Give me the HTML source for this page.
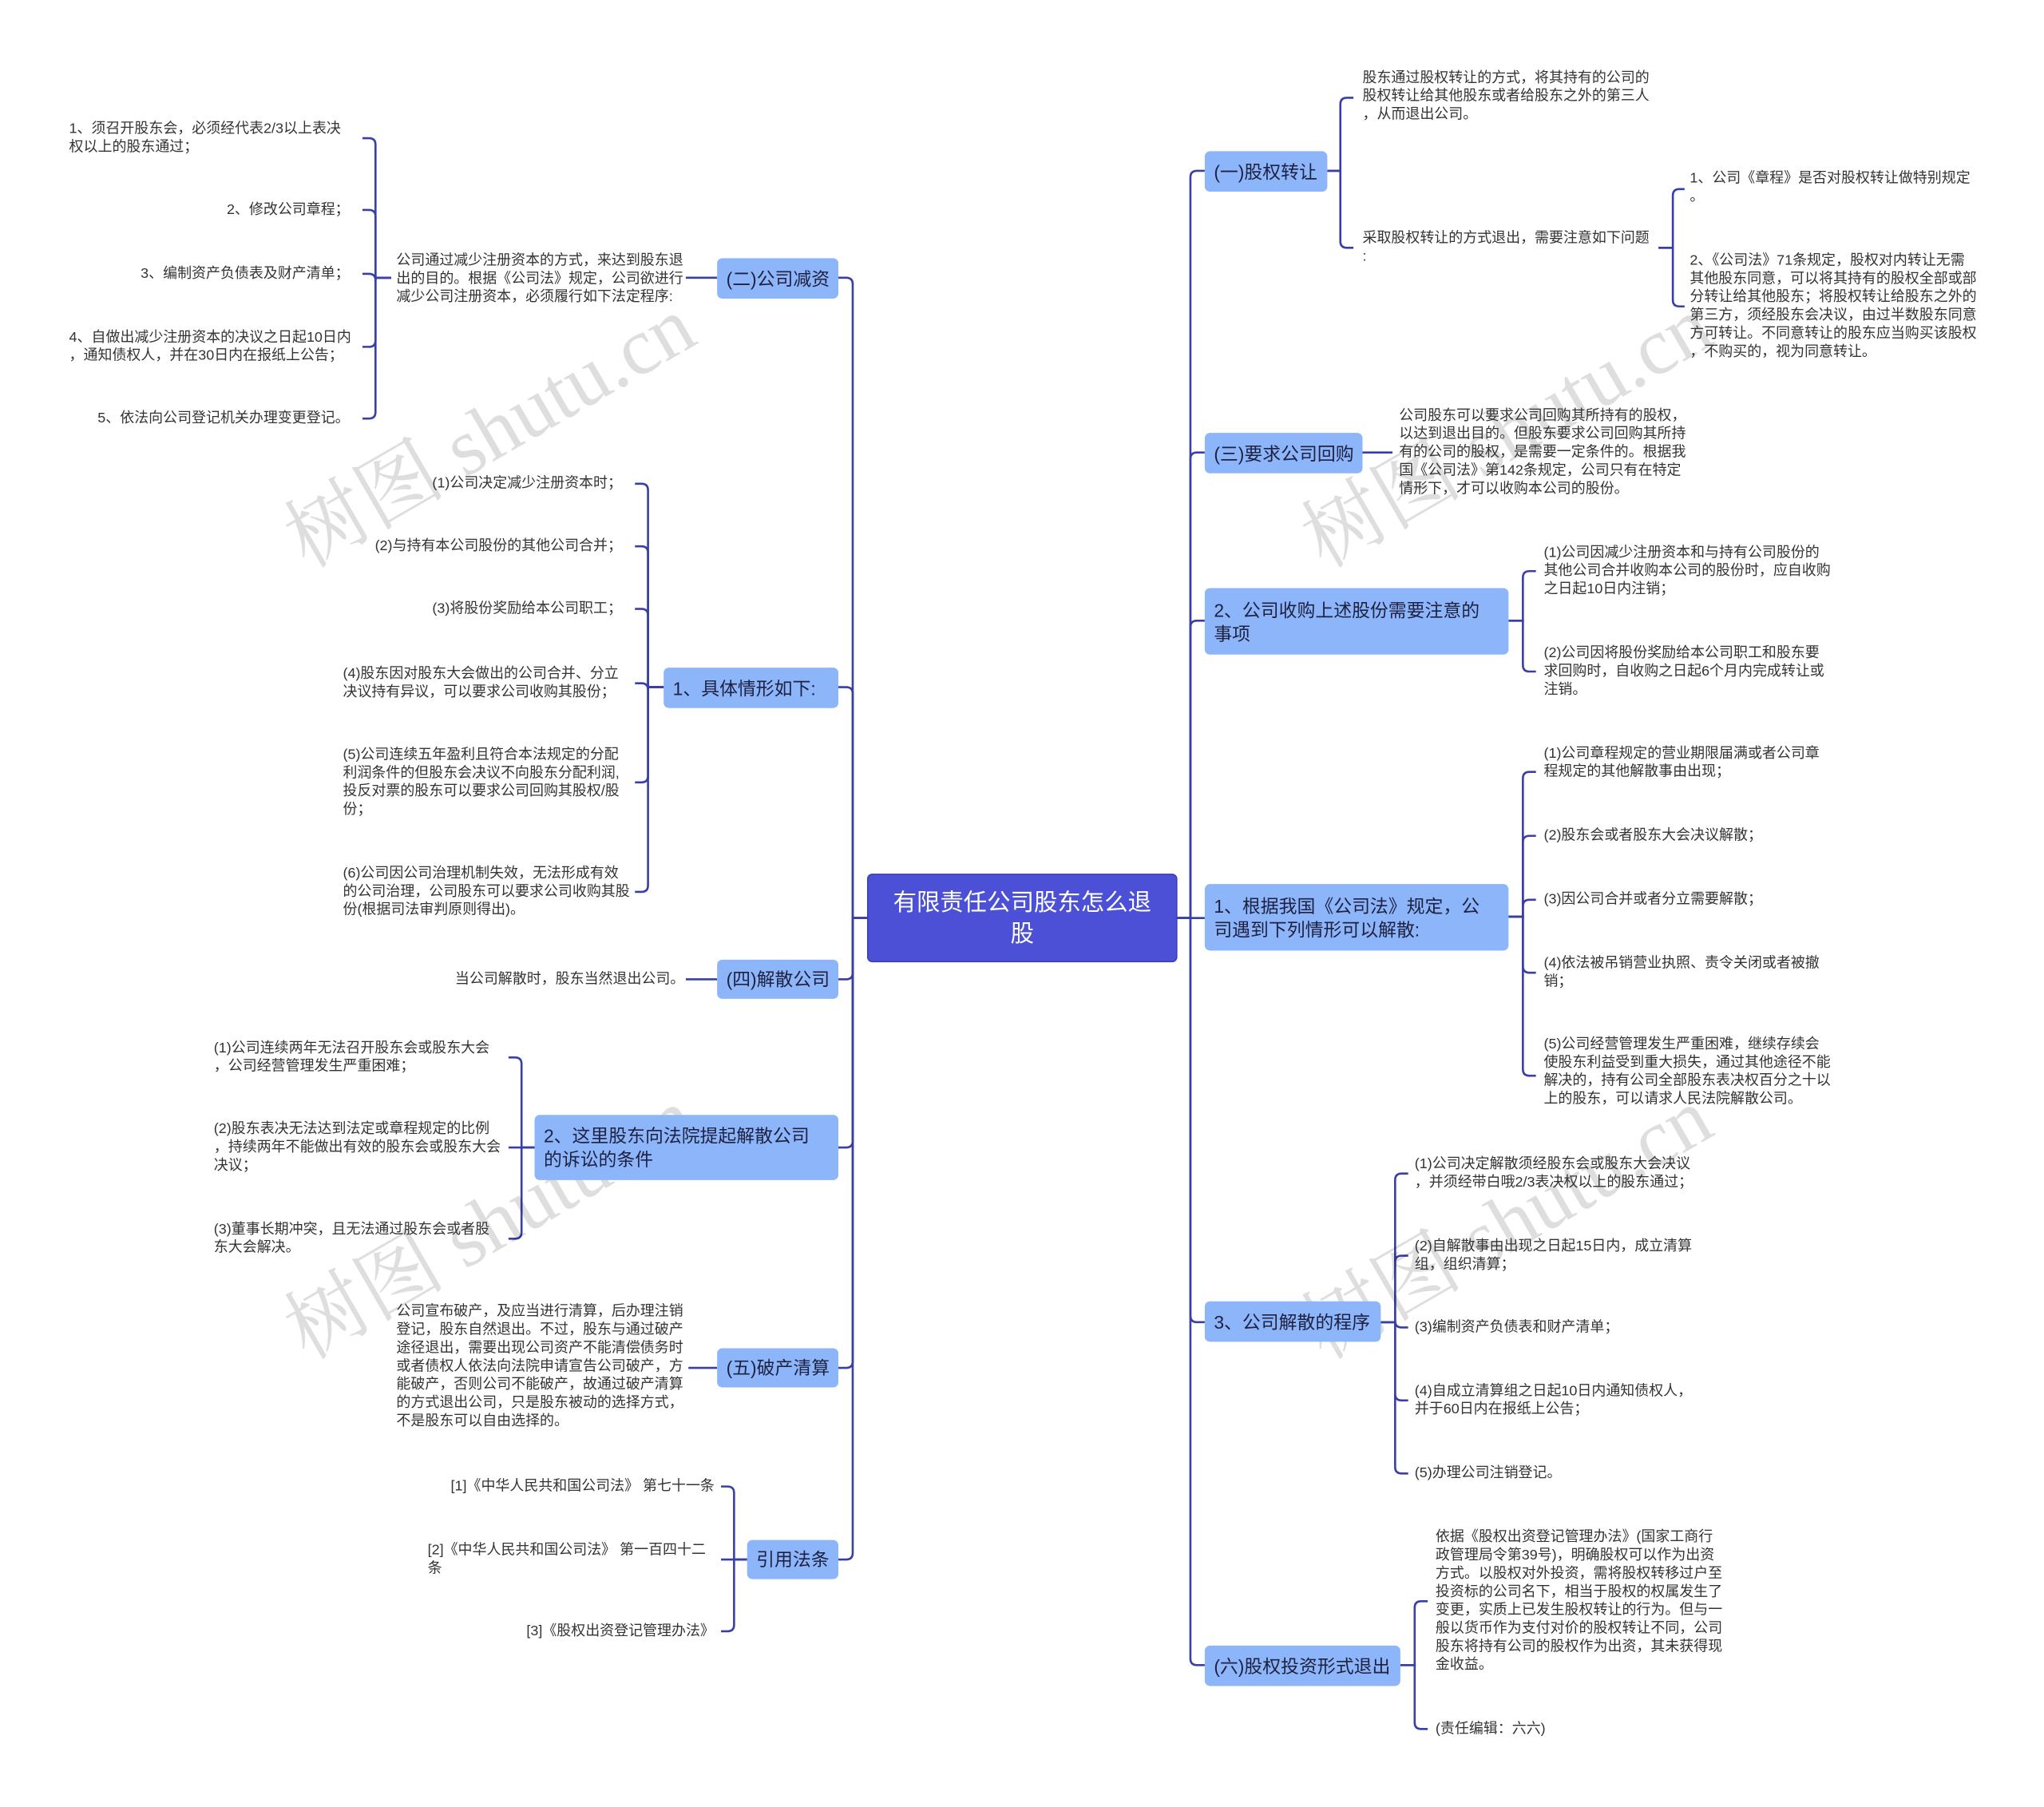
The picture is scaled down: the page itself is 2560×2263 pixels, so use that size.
<!DOCTYPE html>
<html><head><meta charset="utf-8">
<style>
html,body{margin:0;padding:0;background:#fff;}
body{width:2560px;height:2263px;overflow:hidden;position:relative;}
#c{position:absolute;left:0;top:0;width:1568px;height:1386px;transform:scale(1.633);transform-origin:0 0;font-family:"Liberation Sans","Noto Sans CJK SC",sans-serif;}
.t{position:absolute;font-size:11px;line-height:14px;color:#333;white-space:nowrap;}
.n{position:absolute;background:#8db5fa;border-radius:4px;color:#1e2140;font-size:14px;line-height:18px;box-sizing:border-box;padding:0 7px;display:flex;align-items:center;white-space:nowrap;}
.root{position:absolute;left:665px;top:670px;width:238px;height:68px;background:#4b50d6;border:1px solid #3a3fb0;border-radius:4px;box-sizing:border-box;color:#fff;font-size:18px;line-height:24px;text-align:center;display:flex;align-items:center;justify-content:center;}
.wm{position:absolute;font-family:"Liberation Serif","Noto Serif CJK SC",serif;font-size:62px;color:rgba(0,0,0,0.13);transform:rotate(-30deg);transform-origin:0 0;white-space:nowrap;}
svg{position:absolute;left:0;top:0;}
path{fill:none;stroke:#3a3fa8;stroke-width:1.6;}
</style></head><body><div id="c">
<svg width="1568" height="1386">
<path d="M665 704 H654 V218 Q654 213 649 213 H643"/>
<path d="M665 704 H654 V532 Q654 527 649 527 H643"/>
<path d="M665 704 H654 V746 Q654 751 649 751 H643"/>
<path d="M665 704 H654 V875 Q654 880 649 880 H643"/>
<path d="M665 704 H654 V1044 Q654 1049 649 1049 H643"/>
<path d="M665 704 H654 V1191 Q654 1196 649 1196 H643"/>
<path d="M903 704 H913 V136 Q913 131 918 131 H924"/>
<path d="M903 704 H913 V352 Q913 347 918 347 H924"/>
<path d="M903 704 H913 V481 Q913 476 918 476 H924"/>
<path d="M903 704 H924"/>
<path d="M903 704 H913 V1009 Q913 1014 918 1014 H924"/>
<path d="M903 704 H913 V1272 Q913 1277 918 1277 H924"/>
<path d="M550 213 H526"/>
<path d="M300 213 H288 V111 Q288 106 283 106 H278"/>
<path d="M300 213 H288 V166 Q288 161 283 161 H278"/>
<path d="M300 213 H288 V215 Q288 210 283 210 H278"/>
<path d="M300 213 H288 V261 Q288 266 283 266 H278"/>
<path d="M300 213 H288 V316 Q288 321 283 321 H278"/>
<path d="M509 527 H497 V376 Q497 371 492 371 H487"/>
<path d="M509 527 H497 V424 Q497 419 492 419 H487"/>
<path d="M509 527 H497 V472 Q497 467 492 467 H487"/>
<path d="M509 527 H497 V529 Q497 524 492 524 H487"/>
<path d="M509 527 H497 V595 Q497 600 492 600 H487"/>
<path d="M509 527 H497 V679 Q497 684 492 684 H487"/>
<path d="M550 751 H526"/>
<path d="M410 880 H400 V816 Q400 811 395 811 H390"/>
<path d="M410 880 H390"/>
<path d="M410 880 H400 V945 Q400 950 395 950 H390"/>
<path d="M550 1049 H528"/>
<path d="M573 1196 H563 V1145 Q563 1140 558 1140 H553"/>
<path d="M573 1196 H553"/>
<path d="M573 1196 H563 V1246 Q563 1251 558 1251 H553"/>
<path d="M1018 131 H1028 V80 Q1028 75 1033 75 H1038"/>
<path d="M1018 131 H1028 V185 Q1028 190 1033 190 H1038"/>
<path d="M1272 190 H1283 V150 Q1283 145 1288 145 H1292"/>
<path d="M1272 190 H1283 V230 Q1283 235 1288 235 H1292"/>
<path d="M1045 347 H1068"/>
<path d="M1157 476 H1168 V443 Q1168 438 1173 438 H1178"/>
<path d="M1157 476 H1168 V510 Q1168 515 1173 515 H1178"/>
<path d="M1157 703 H1168 V597 Q1168 592 1173 592 H1178"/>
<path d="M1157 703 H1168 V646 Q1168 641 1173 641 H1178"/>
<path d="M1157 703 H1168 V695 Q1168 690 1173 690 H1178"/>
<path d="M1157 703 H1168 V741 Q1168 746 1173 746 H1178"/>
<path d="M1157 703 H1168 V820 Q1168 825 1173 825 H1178"/>
<path d="M1059 1014 H1070 V905 Q1070 900 1075 900 H1080"/>
<path d="M1059 1014 H1070 V968 Q1070 963 1075 963 H1080"/>
<path d="M1059 1014 H1070 V1013 Q1070 1018 1075 1018 H1080"/>
<path d="M1059 1014 H1070 V1069 Q1070 1074 1075 1074 H1080"/>
<path d="M1059 1014 H1070 V1125 Q1070 1130 1075 1130 H1080"/>
<path d="M1074 1277 H1085 V1233 Q1085 1228 1090 1228 H1095"/>
<path d="M1074 1277 H1085 V1321 Q1085 1326 1090 1326 H1095"/>
</svg>

<div class="wm" style="left:200px;top:375px;">树图 shutu.cn</div>
<div class="wm" style="left:980px;top:375px;">树图 shutu.cn</div>
<div class="wm" style="left:200px;top:982px;">树图 shutu.cn</div>
<div class="wm" style="left:980px;top:982px;">树图 shutu.cn</div>

<div class="root">有限责任公司股东怎么退<br>股</div>

<div class="n" style="left:550px;top:198px;width:93px;height:31px;">(二)公司减资</div>
<div class="n" style="left:509px;top:512px;width:134px;height:31px;">1、具体情形如下:</div>
<div class="n" style="left:550px;top:736px;width:93px;height:30px;">(四)解散公司</div>
<div class="n" style="left:410px;top:855px;width:233px;height:50px;">2、这里股东向法院提起解散公司<br>的诉讼的条件</div>
<div class="n" style="left:550px;top:1034px;width:93px;height:30px;">(五)破产清算</div>
<div class="n" style="left:573px;top:1181px;width:70px;height:30px;">引用法条</div>

<div class="n" style="left:924px;top:116px;width:94px;height:31px;">(一)股权转让</div>
<div class="n" style="left:924px;top:332px;width:121px;height:31px;">(三)要求公司回购</div>
<div class="n" style="left:924px;top:451px;width:233px;height:51px;">2、公司收购上述股份需要注意的<br>事项</div>
<div class="n" style="left:924px;top:678px;width:233px;height:51px;">1、根据我国《公司法》规定，公<br>司遇到下列情形可以解散:</div>
<div class="n" style="left:924px;top:998px;width:135px;height:31px;">3、公司解散的程序</div>
<div class="n" style="left:924px;top:1262px;width:150px;height:31px;">(六)股权投资形式退出</div>

<div class="t" style="left:304px;top:193px;">公司通过减少注册资本的方式，来达到股东退<br>出的目的。根据《公司法》规定，公司欲进行<br>减少公司注册资本，必须履行如下法定程序:</div>
<div class="t" style="left:53px;top:92px;">1、须召开股东会，必须经代表2/3以上表决<br>权以上的股东通过；</div>
<div class="t" style="right:1300px;top:154px;">2、修改公司章程；</div>
<div class="t" style="right:1300px;top:203px;">3、编制资产负债表及财产清单；</div>
<div class="t" style="left:53px;top:252px;">4、自做出减少注册资本的决议之日起10日内<br>，通知债权人，并在30日内在报纸上公告；</div>
<div class="t" style="right:1300px;top:314px;">5、依法向公司登记机关办理变更登记。</div>

<div class="t" style="right:1091px;top:364px;">(1)公司决定减少注册资本时；</div>
<div class="t" style="right:1091px;top:412px;">(2)与持有本公司股份的其他公司合并；</div>
<div class="t" style="right:1091px;top:460px;">(3)将股份奖励给本公司职工；</div>
<div class="t" style="left:263px;top:510px;">(4)股东因对股东大会做出的公司合并、分立<br>决议持有异议，可以要求公司收购其股份；</div>
<div class="t" style="left:263px;top:572px;">(5)公司连续五年盈利且符合本法规定的分配<br>利润条件的但股东会决议不向股东分配利润,<br>投反对票的股东可以要求公司回购其股权/股<br>份；</div>
<div class="t" style="left:263px;top:663px;">(6)公司因公司治理机制失效，无法形成有效<br>的公司治理，公司股东可以要求公司收购其股<br>份(根据司法审判原则得出)。</div>

<div class="t" style="right:1043px;top:744px;">当公司解散时，股东当然退出公司。</div>

<div class="t" style="left:164px;top:797px;">(1)公司连续两年无法召开股东会或股东大会<br>，公司经营管理发生严重困难；</div>
<div class="t" style="left:164px;top:859px;">(2)股东表决无法达到法定或章程规定的比例<br>，持续两年不能做出有效的股东会或股东大会<br>决议；</div>
<div class="t" style="left:164px;top:936px;">(3)董事长期冲突，且无法通过股东会或者股<br>东大会解决。</div>

<div class="t" style="left:304px;top:999px;">公司宣布破产，及应当进行清算，后办理注销<br>登记，股东自然退出。不过，股东与通过破产<br>途径退出，需要出现公司资产不能清偿债务时<br>或者债权人依法向法院申请宣告公司破产，方<br>能破产，否则公司不能破产，故通过破产清算<br>的方式退出公司，只是股东被动的选择方式，<br>不是股东可以自由选择的。</div>

<div class="t" style="right:1020px;top:1133px;">[1]《中华人民共和国公司法》 第七十一条</div>
<div class="t" style="left:328px;top:1182px;">[2]《中华人民共和国公司法》 第一百四十二<br>条</div>
<div class="t" style="right:1020px;top:1244px;">[3]《股权出资登记管理办法》</div>

<div class="t" style="left:1045px;top:53px;">股东通过股权转让的方式，将其持有的公司的<br>股权转让给其他股东或者给股东之外的第三人<br>，从而退出公司。</div>
<div class="t" style="left:1045px;top:176px;">采取股权转让的方式退出，需要注意如下问题<br>:</div>
<div class="t" style="left:1296px;top:130px;">1、公司《章程》是否对股权转让做特别规定<br>。</div>
<div class="t" style="left:1296px;top:193px;">2、《公司法》71条规定，股权对内转让无需<br>其他股东同意，可以将其持有的股权全部或部<br>分转让给其他股东；将股权转让给股东之外的<br>第三方，须经股东会决议，由过半数股东同意<br>方可转让。不同意转让的股东应当购买该股权<br>，不购买的，视为同意转让。</div>
<div class="t" style="left:1073px;top:312px;">公司股东可以要求公司回购其所持有的股权，<br>以达到退出目的。但股东要求公司回购其所持<br>有的公司的股权，是需要一定条件的。根据我<br>国《公司法》第142条规定，公司只有在特定<br>情形下，才可以收购本公司的股份。</div>
<div class="t" style="left:1184px;top:417px;">(1)公司因减少注册资本和与持有公司股份的<br>其他公司合并收购本公司的股份时，应自收购<br>之日起10日内注销；</div>
<div class="t" style="left:1184px;top:494px;">(2)公司因将股份奖励给本公司职工和股东要<br>求回购时，自收购之日起6个月内完成转让或<br>注销。</div>
<div class="t" style="left:1184px;top:571px;">(1)公司章程规定的营业期限届满或者公司章<br>程规定的其他解散事由出现；</div>
<div class="t" style="left:1184px;top:634px;">(2)股东会或者股东大会决议解散；</div>
<div class="t" style="left:1184px;top:683px;">(3)因公司合并或者分立需要解散；</div>
<div class="t" style="left:1184px;top:732px;">(4)依法被吊销营业执照、责令关闭或者被撤<br>销；</div>
<div class="t" style="left:1184px;top:794px;">(5)公司经营管理发生严重困难，继续存续会<br>使股东利益受到重大损失，通过其他途径不能<br>解决的，持有公司全部股东表决权百分之十以<br>上的股东，可以请求人民法院解散公司。</div>
<div class="t" style="left:1085px;top:886px;">(1)公司决定解散须经股东会或股东大会决议<br>，并须经带白哦2/3表决权以上的股东通过；</div>
<div class="t" style="left:1085px;top:949px;">(2)自解散事由出现之日起15日内，成立清算<br>组，组织清算；</div>
<div class="t" style="left:1085px;top:1011px;">(3)编制资产负债表和财产清单；</div>
<div class="t" style="left:1085px;top:1060px;">(4)自成立清算组之日起10日内通知债权人，<br>并于60日内在报纸上公告；</div>
<div class="t" style="left:1085px;top:1123px;">(5)办理公司注销登记。</div>
<div class="t" style="left:1101px;top:1172px;">依据《股权出资登记管理办法》(国家工商行<br>政管理局令第39号)，明确股权可以作为出资<br>方式。以股权对外投资，需将股权转移过户至<br>投资标的公司名下，相当于股权的权属发生了<br>变更，实质上已发生股权转让的行为。但与一<br>般以货币作为支付对价的股权转让不同，公司<br>股东将持有公司的股权作为出资，其未获得现<br>金收益。</div>
<div class="t" style="left:1101px;top:1319px;">(责任编辑：六六)</div>
</div></body></html>
